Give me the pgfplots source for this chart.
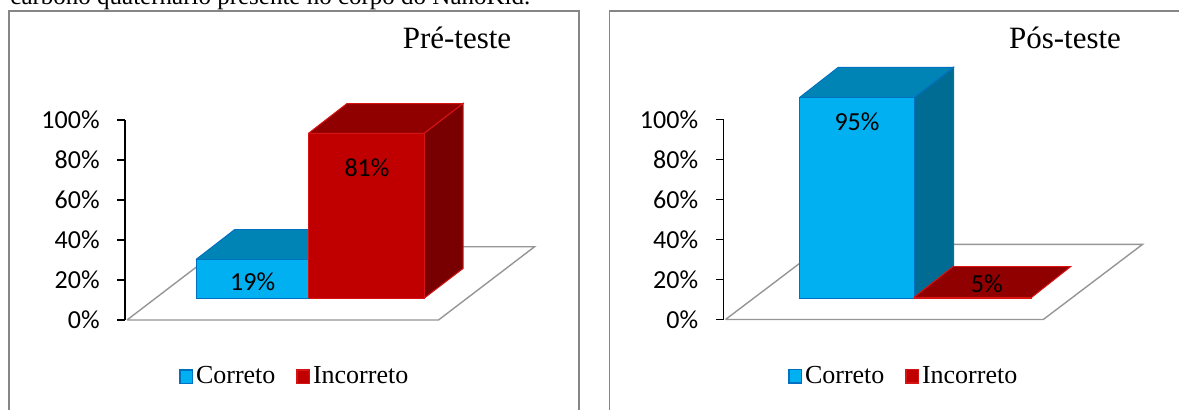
\documentclass[border=0pt]{standalone}
\usepackage{fontspec}
\setmainfont{Liberation Serif}
\newfontfamily\calibri{Carlito}
\usepackage{pgfplots}
\pgfplotsset{compat=1.18}
\definecolor{bluefront}{RGB}{0,176,240}
\definecolor{bluetop}{RGB}{0,132,182}
\definecolor{blueside}{RGB}{0,108,148}
\definecolor{blueedge}{RGB}{0,112,192}
\definecolor{redfront}{RGB}{192,0,0}
\definecolor{redtop}{RGB}{144,0,0}
\definecolor{redside}{RGB}{120,0,0}
\definecolor{rededge}{RGB}{215,20,20}
\definecolor{framegray}{RGB}{134,134,134}
\definecolor{floorgray}{RGB}{150,150,150}

\tikzset{
  floor/.style={draw=floorgray, line width=0.7pt, fill=white},
  bf/.style={fill=bluefront, draw=blueedge, line width=0.5pt},
  bt/.style={fill=bluetop, draw=blueedge, line width=0.5pt},
  bs/.style={fill=blueside, draw=blueedge, line width=0.5pt},
  rf/.style={fill=redfront, draw=rededge, line width=0.5pt},
  rt/.style={fill=redtop, draw=rededge, line width=0.5pt},
  rs/.style={fill=redside, draw=rededge, line width=0.5pt},
  vlab/.style={font=\calibri\fontsize{13}{15}\selectfont, inner sep=0pt},
}
\pgfplotsset{
  panel/.style={
    x=0.5pt, y=1pt, anchor=south west,
    xmin=0, xmax=420, ymin=0, ymax=100,
    axis x line=none, axis y line*=left,
    clip=false, no markers,
    ytick={0,20,...,100}, yticklabels={0\%,20\%,40\%,60\%,80\%,100\%},
    tick align=outside, major tick length=4pt,
    y axis line style={black, line width=0.75pt},
    ytick style={black, line width=0.75pt},
    yticklabel style={font=\calibri\fontsize{13}{15}\selectfont, anchor=east, inner sep=0pt, xshift=-8.5pt},
    legend columns=-1,
    legend style={draw=none, fill=none, inner sep=0pt, anchor=west,
      font=\fontsize{13}{15}\selectfont,
      /tikz/every even column/.append style={column sep=9pt},
      nodes={inner sep=1.5pt}},
    legend image code/.code={\draw[##1, line width=0.6pt] (0pt,-3.4pt) rectangle (6.2pt,3.4pt);},
  },
}

\begin{document}
\begin{tikzpicture}[x=1pt,y=1pt]
\path[use as bounding box] (0,0) rectangle (589.5,204.5);
\clip (0,0) rectangle (589.5,204.5);

% frames
\draw[framegray, line width=0.75pt] (4.5,-10) rectangle (289.5,199);
\draw[framegray, line width=0.75pt] (304.85,-10) rectangle (620,199);

% text above (cut off)
\node[anchor=base west, inner sep=0pt, font=\fontsize{12.5}{15}\selectfont] at (5,202.5) {carbono quaternário presente no corpo do NanoKid.};

% titles
\node[anchor=base, inner sep=0pt, font=\fontsize{15.5}{18}\selectfont] at (228.5,180.5) {Pré-teste};
\node[anchor=base, inner sep=0pt, font=\fontsize{15.5}{18}\selectfont] at (532.5,180.5) {Pós-teste};

% ---------------- Pré-teste ----------------
\begin{axis}[panel, at={(62.5pt,44.5pt)},
  legend style={at={(0.1286,-0.2835)}}]
\addplot[floor, forget plot] coordinates {(2,0) (313.5,0) (409.6,36.65) (98,36.65) (2,0)};
% Correto 19%
\addplot[bs, forget plot] coordinates {(183.5,10.85) (222,25.75) (222,45.15) (183.5,30.25) (183.5,10.85)};
\addplot[bt, forget plot] coordinates {(71,30.25) (183.5,30.25) (222,45.15) (109.5,45.15) (71,30.25)};
\addplot[bf, forget plot] coordinates {(71,10.85) (183.5,10.85) (183.5,30.25) (71,30.25) (71,10.85)};
% Incorreto 81%
\addplot[rs, forget plot] coordinates {(299,10.85) (338,25.75) (338,108.25) (299,93.35) (299,10.85)};
\addplot[rt, forget plot] coordinates {(183.5,93.35) (299,93.35) (338,108.25) (222,108.25) (183.5,93.35)};
\addplot[rf, forget plot] coordinates {(183.5,10.85) (299,10.85) (299,93.35) (183.5,93.35) (183.5,10.85)};
\node[vlab] at (axis cs:127.7,19.15) {19\%};
\node[vlab] at (axis cs:242,76.35) {81\%};
\addlegendimage{fill=bluefront, draw=blueedge}
\addlegendentry{Correto}
\addlegendimage{fill=redfront, draw=rededge}
\addlegendentry{Incorreto}
\end{axis}

% ---------------- Pós-teste ----------------
\begin{axis}[panel, at={(361.75pt,44.75pt)},
  legend style={at={(0.1536,-0.2835)}}]
\addplot[floor, forget plot] coordinates {(2,0) (319.8,0) (419.1,37.6) (101.3,37.6) (2,0)};
% Correto 95%
\addplot[bs, forget plot] coordinates {(190.5,10.6) (230,26.1) (230,126.1) (190.5,110.9) (190.5,10.6)};
\addplot[bt, forget plot] coordinates {(75.8,110.9) (190.5,110.9) (230,126.1) (114.8,126.1) (75.8,110.9)};
\addplot[bf, forget plot] coordinates {(75.8,10.6) (190.5,10.6) (190.5,110.9) (75.8,110.9) (75.8,10.6)};
% Incorreto 5%
\addplot[rt, forget plot] coordinates {(190.5,11.1) (308.2,11.1) (347,26.4) (229.5,26.4) (190.5,11.1)};
\addplot[rf, forget plot] coordinates {(190.5,10.6) (308.2,10.6) (308.2,11.1) (190.5,11.1) (190.5,10.6)};
\node[vlab] at (axis cs:133.5,98.9) {95\%};
\node[vlab] at (axis cs:263.2,18.1) {5\%};
\addlegendimage{fill=bluefront, draw=blueedge}
\addlegendentry{Correto}
\addlegendimage{fill=redfront, draw=rededge}
\addlegendentry{Incorreto}
\end{axis}
\end{tikzpicture}
\end{document}
